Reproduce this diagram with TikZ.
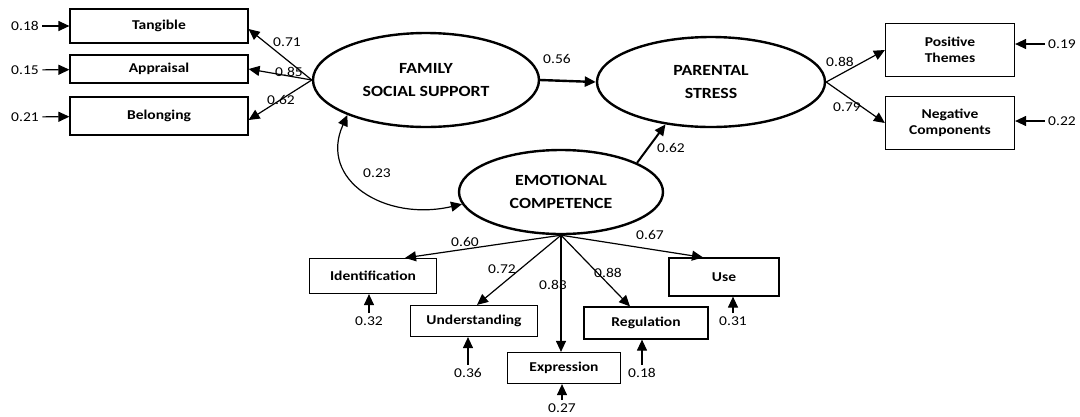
\documentclass[tikz,border=0pt]{standalone}
\usepackage{fontspec}
\setmainfont{Carlito}[FakeStretch=1.15]
\usetikzlibrary{arrows.meta,shapes.geometric}

\begin{document}
\begin{tikzpicture}[
	x=1pt, y=-1pt,
	>={Triangle[length=11pt,width=10pt]},
	every node/.style={font=\fontsize{13.5}{15}\selectfont},
	box/.style={draw, line width=1.2pt, inner sep=2pt, align=center,
		font=\fontsize{13.5}{16}\selectfont\bfseries},
	latent/.style={draw, ellipse, line width=2.4pt, inner sep=0pt, align=center,
		font=\fontsize{15.5}{23}\selectfont\bfseries},
	path/.style={->, line width=1.2pt},
	lbl/.style={inner sep=1pt}
	]
	\useasboundingbox (0,0) rectangle (1080,416);
	
	%--- latent variables ---
	\node[latent, minimum width=226, minimum height=94] (FSS) at (426,80) {FAMILY\\SOCIAL SUPPORT};
	\node[latent, minimum width=228, minimum height=90] (PS) at (711,82) {PARENTAL\\STRESS};
	\node[latent, minimum width=204, minimum height=84] (EC) at (561,192) {EMOTIONAL\\COMPETENCE};
	
	%--- family social support indicators ---
	\node[box, minimum width=178, minimum height=34] (Tang) at (159,26) {Tangible};
	\node[box, minimum width=178, minimum height=28] (App) at (159,69) {Appraisal};
	\node[box, minimum width=178, minimum height=38] (Bel) at (159,116) {Belonging};
	
	\node (eTang) at (25,26) {0.18};
	\node (eApp) at (25,70) {0.15};
	\node (eBel) at (25,117) {0.21};
	
	\draw[path] (eTang) -- (Tang);
	\draw[path] (eApp) -- (App);
	\draw[path] (eBel) -- (Bel);
	
	\draw[path] (FSS.west) -- ([yshift=-3pt]Tang.east);
	\draw[path] (FSS.west) -- (App.east);
	\draw[path] (FSS.west) -- ([yshift=-4pt]Bel.east);
	
	\node[lbl] (lTang) at (287,42) {0.71};
	\node[lbl] (lApp) at (289,72) {0.85};
	\node[lbl] (lBel) at (281,100) {0.62};
	
	%--- parental stress indicators ---
	\node[box, minimum width=129, minimum height=53] (PT) at (950,50) {Positive\\Themes};
	\node[box, minimum width=129, minimum height=53] (NC) at (950,123) {Negative\\Components};
	
	\node (ePT) at (1062,44) {0.19};
	\node (eNC) at (1062,121) {0.22};
	
	\draw[path] (ePT) -- (ePT -| PT.east);
	\draw[path] (eNC) -- (eNC -| NC.east);
	
	\draw[path] (PS.east) -- (PT.west);
	\draw[path] (PS.east) -- (NC.west);
	
	\node[lbl] (lPT) at (840,62) {0.88};
	\node[lbl] (lNC) at (847,107) {0.79};
	
	%--- structural paths ---
	\draw[->, line width=2.4pt] (FSS.east) -- (PS.west);
	\draw[->, line width=2pt] (EC.21) -- (PS.223);
	\draw[<->, line width=1.2pt] (FSS.204) .. controls (318,180) and (385,222) .. (EC.187);
	
	\node[lbl] (lFP) at (557,59) {0.56};
	\node[lbl] (lEP) at (671,148) {0.62};
	\node[lbl] (lFE) at (377,173) {0.23};
	
	%--- emotional competence indicators ---
	\node[box, minimum width=127, minimum height=35] (Ident) at (373,276) {Identification};
	\node[box, minimum width=127, minimum height=31] (Und) at (474,321) {Understanding};
	\node[box, minimum width=113, minimum height=31] (Expr) at (564,368) {Expression};
	\node[box, minimum width=124, minimum height=32] (Reg) at (646,323) {Regulation};
	\node[box, minimum width=110, minimum height=38] (Use) at (724,277) {Use};
	
	\draw[path] (EC.south) -- ([xshift=32pt]Ident.north);
	\draw[path] (EC.south) -- ([xshift=3pt]Und.north);
	\draw[path] (EC.south) -- (EC.south |- Expr.north);
	\draw[path] (EC.south) -- ([xshift=-16pt]Reg.north);
	\draw[path] (EC.south) -- ([xshift=-21pt]Use.north);
	
	\node[lbl] (lIdent) at (465,242) {0.60};
	\node[lbl] (lUnd) at (502,269) {0.72};
	\node[lbl] (lExpr) at (553,285) {0.83};
	\node[lbl] (lReg) at (608,273) {0.88};
	\node[lbl] (lUse) at (650,235) {0.67};
	
	\node (eIdent) at (369,321) {0.32};
	\node (eUnd) at (468,373) {0.36};
	\node (eExpr) at (562,408) {0.27};
	\node (eReg) at (642,373) {0.18};
	\node (eUse) at (733,321) {0.31};
	
	\draw[path] (eIdent) -- (eIdent |- Ident.south);
	\draw[path] (eUnd) -- (eUnd |- Und.south);
	\draw[path] (eExpr) -- (eExpr |- Expr.south);
	\draw[path] (eReg) -- (eReg |- Reg.south);
	\draw[path] (eUse) -- (eUse |- Use.south);
	
\end{tikzpicture}
\end{document}
